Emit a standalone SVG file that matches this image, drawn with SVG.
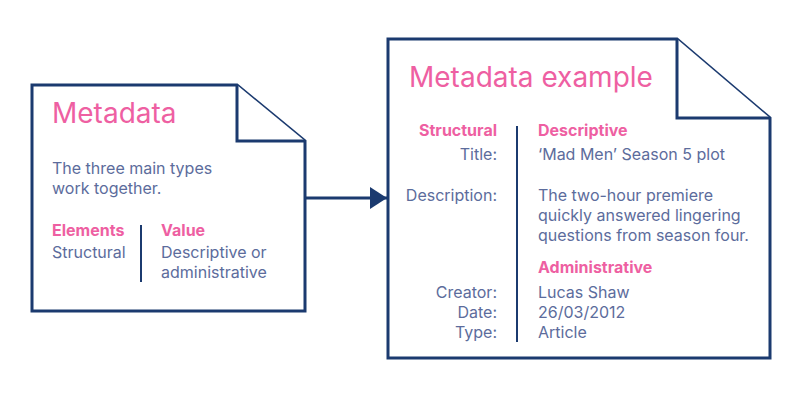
<svg xmlns="http://www.w3.org/2000/svg" width="800" height="400" viewBox="0 0 800 400">
<style>
.doc{fill:#fff;stroke:#1b3a6f;stroke-width:3;stroke-linejoin:miter}
.t{font-family:Inter,"Noto Sans",sans-serif;fill:#5c6c9c;font-size:16px}
.h{font-family:Inter,"Noto Sans",sans-serif;fill:#ee5fa2;font-size:28px}
.b{font-family:Inter,"Noto Sans",sans-serif;fill:#ee5fa2;font-size:16px;font-weight:700}
.r{text-anchor:end}
.div{stroke:#1b3a6f;stroke-width:2}
</style>
<defs>
<marker id="ah" markerWidth="17" markerHeight="22" refX="17" refY="11" orient="auto" markerUnits="userSpaceOnUse" viewBox="0 0 17 22">
<path d="M0,0 L17,11 L0,22 z" fill="#1b3a6f"/>
</marker>
</defs>
<g id="connectors">
<line x1="305" y1="198" x2="387" y2="198" stroke="#1b3a6f" stroke-width="3" marker-end="url(#ah)"/>
</g>
<g id="doc-metadata">
<path class="doc" d="M32,85 H237 L305,141 V311 H32 Z"/>
<path class="doc" d="M237,85 V141 H305"/>
<text class="h" x="52" y="123">Metadata</text>
<text class="t" x="52" y="174">The three main types</text>
<text class="t" x="52" y="194">work together.</text>
<text class="b" x="52" y="236">Elements</text>
<text class="t" x="52" y="258">Structural</text>
<line class="div" x1="141" y1="225" x2="141" y2="282"/>
<text class="b" x="161" y="236">Value</text>
<text class="t" x="161" y="258">Descriptive or</text>
<text class="t" x="161" y="278">administrative</text>
</g>
<g id="doc-example">
<path class="doc" d="M388,39 H677 L770,118 V358 H388 Z"/>
<path class="doc" d="M677,39 V118 H770"/>
<text class="h" x="409" y="87">Metadata example</text>
<line class="div" x1="517" y1="126" x2="517" y2="342"/>
<text class="b r" x="497" y="136">Structural</text>
<text class="t r" x="497" y="160">Title:</text>
<text class="t r" x="497" y="201">Description:</text>
<text class="t r" x="497" y="298">Creator:</text>
<text class="t r" x="497" y="318">Date:</text>
<text class="t r" x="497" y="338">Type:</text>
<text class="b" x="538" y="136">Descriptive</text>
<text class="t" x="538" y="160">‘Mad Men’ Season 5 plot</text>
<text class="t" x="538" y="201">The two-hour premiere</text>
<text class="t" x="538" y="221">quickly answered lingering</text>
<text class="t" x="538" y="241">questions from season four.</text>
<text class="b" x="538" y="273">Administrative</text>
<text class="t" x="538" y="298">Lucas Shaw</text>
<text class="t" x="538" y="318">26/03/2012</text>
<text class="t" x="538" y="338">Article</text>
</g>
</svg>
